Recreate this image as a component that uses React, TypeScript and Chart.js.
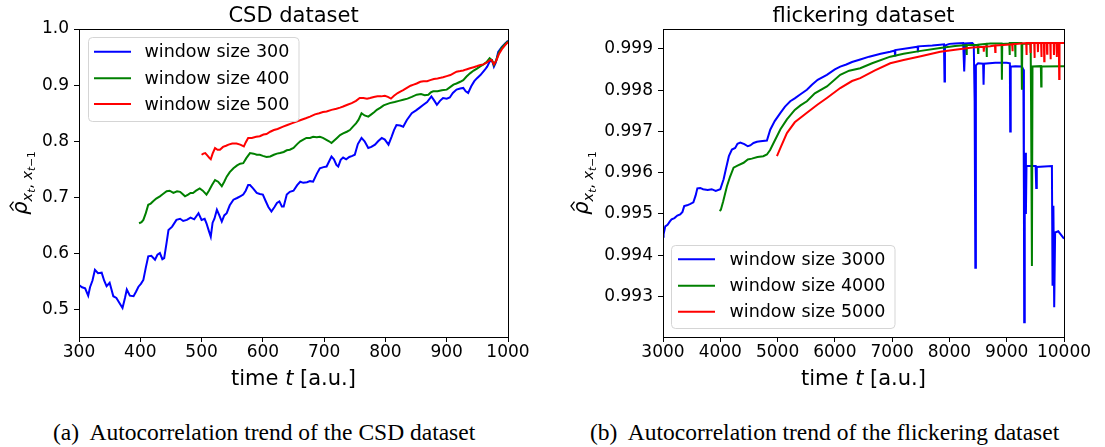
import React, { useEffect, useRef } from "react";
import { Chart, registerables } from "chart.js";
Chart.register(...registerables);

// ---------- CSD dataset ----------
const csdT300 = [300,305,310,315,318,322,326,331,337,341,345,350,356,361,366,371,375,378,383,389,393,397,401,405,409,413,418,424,428,432,436,439,443,446,452,459,465,470,476,482,488,495,500,505,508,512,515,518,521,525,529,533,537,541,546,552,558,563,568,572,576,579,584,590,595,600,604,609,614,619,623,627,631,634,639,644,650,656,661,666,672,677,682,688,693,699,704,708,712,716,720,723,727,731,736,741,746,750,755,761,766,772,777,783,788,794,799,805,810,814,818,824,829,835,843,850,856,862,868,875,880,884,889,894,900,905,910,916,922,927,931,935,940,945,949,955,962,966,970,974,977,980,984,990,995,1000];
const csdV300 = [.544,.540,.538,.525,.540,.552,.571,.565,.566,.552,.542,.548,.524,.521,.512,.503,.521,.536,.525,.524,.532,.541,.546,.553,.575,.595,.596,.589,.598,.601,.590,.592,.620,.642,.648,.660,.662,.658,.660,.664,.661,.672,.660,.662,.654,.640,.630,.655,.662,.678,.668,.657,.668,.672,.686,.696,.699,.702,.705,.712,.722,.722,.716,.708,.706,.705,.695,.683,.675,.683,.690,.693,.684,.684,.705,.710,.712,.722,.728,.726,.727,.729,.728,.742,.752,.754,.755,.764,.773,.768,.758,.755,.767,.771,.768,.772,.774,.776,.795,.806,.800,.788,.790,.794,.800,.806,.803,.794,.808,.820,.829,.828,.826,.838,.850,.855,.860,.865,.870,.880,.872,.865,.872,.877,.876,.878,.886,.892,.894,.895,.889,.886,.898,.907,.912,.918,.927,.933,.942,.944,.933,.940,.959,.968,.974,.979];

const csdT400 = [398,402,405,409,413,417,421,426,432,437,443,448,454,460,465,469,473,478,482,486,491,497,502,508,512,517,522,527,533,537,541,546,552,558,563,568,573,579,585,590,595,600,606,612,618,623,628,634,639,644,650,656,661,666,671,677,682,688,693,698,703,708,712,716,721,726,731,737,742,747,752,756,761,766,772,777,782,786,792,797,807,815,822,829,836,843,851,858,864,870,874,878,885,892,900,905,911,916,922,927,932,938,944,950,954,960,965,970,974,977,981,985,990,995,1000];
const csdV400 = [.654,.656,.660,.672,.687,.689,.693,.698,.702,.706,.711,.712,.708,.711,.710,.706,.702,.705,.708,.708,.712,.716,.712,.705,.712,.722,.731,.728,.720,.728,.737,.745,.752,.757,.760,.761,.770,.779,.778,.776,.776,.774,.772,.773,.776,.778,.779,.781,.784,.785,.788,.795,.800,.803,.806,.806,.808,.807,.808,.806,.803,.800,.797,.801,.806,.811,.814,.817,.820,.826,.832,.838,.850,.846,.844,.848,.852,.856,.860,.864,.868,.870,.872,.874,.876,.879,.883,.884,.882,.883,.887,.889,.889,.891,.892,.896,.901,.903,.906,.909,.915,.921,.926,.930,.933,.937,.941,.948,.944,.936,.945,.958,.967,.973,.978];

const csdT500 = [500,503,506,510,513,515,518,522,526,530,535,540,544,550,557,563,569,572,576,582,589,595,601,606,612,618,624,633,640,647,655,662,670,677,685,692,698,704,712,720,726,731,738,745,752,758,764,770,775,781,787,793,799,804,809,814,820,825,829,835,841,846,851,857,862,868,873,879,885,890,894,900,906,911,916,922,927,932,938,944,950,955,960,965,970,973,977,981,985,990,995,1000];
const csdV500 = [.776,.778,.779,.774,.770,.768,.778,.788,.785,.785,.790,.792,.794,.796,.796,.794,.791,.798,.806,.806,.808,.809,.812,.813,.817,.820,.822,.826,.829,.832,.835,.838,.841,.844,.848,.850,.852,.853,.856,.858,.860,.862,.865,.868,.872,.877,.877,.876,.877,.879,.880,.880,.881,.879,.876,.881,.886,.889,.891,.895,.899,.901,.903,.906,.907,.907,.909,.911,.912,.913,.914,.916,.918,.921,.924,.925,.926,.928,.930,.932,.934,.936,.937,.940,.944,.945,.937,.944,.955,.964,.971,.977];

const csdLabels = ["window size 300", "window size 400", "window size 500"];
const csdXTicks = [300, 400, 500, 600, 700, 800, 900, 1000];
const csdYTicks = [0.5, 0.6, 0.7, 0.8, 0.9, 1.0];

// ---------- flickering dataset ----------
const flkT3000 = [3000,3010,3040,3080,3120,3150,3200,3250,3300,3340,3370,3420,3470,3530,3570,3600,3650,3700,3780,3850,3920,4000,4058,4100,4150,4203,4260,4300,4349,4420,4480,4523,4580,4640,4700,4814,4872,4950,5050,5130,5221,5300,5400,5512,5600,5700,5861,6000,6094,6200,6300,6443,6600,6800,6967,7045,7050,7055,7300,7445,7450,7455,7700,7840,7905,7914,7922,8000,8100,8240,8258,8275,8400,8425,8440,8452,8462,8500,8588,8596,8604,8800,9000,9055,9061,9070,9150,9265,9290,9300,9305,9315,9325,9335,9345,9360,9505,9515,9525,9789,9800,9815,9829,9845,9900,10000];
const flkV3000 = [.99445,.99451,.99470,.99474,.99482,.99487,.99490,.99496,.99499,.99505,.99519,.99521,.99524,.99528,.99545,.99562,.99563,.99560,.99558,.99560,.99556,.99560,.99584,.99610,.99640,.99656,.99660,.99670,.99673,.99669,.99664,.99666,.99672,.99675,.99676,.99678,.99704,.99725,.99745,.99760,.99773,.99780,.99790,.99801,.99813,.99825,.99837,.99850,.99857,.99862,.99868,.99874,.99881,.99888,.99893,.99896,.99884,.99897,.99902,.99905,.99892,.99906,.99908,.99910,.99911,.99821,.99908,.99912,.99913,.99914,.99845,.99913,.99914,.99910,.99773,.99370,.99860,.99865,.99864,.99813,.99864,.99866,.99866,.99865,.99700,.99857,.99858,.99857,.99850,.99560,.99238,.99504,.99648,.99500,.99616,.99616,.99616,.99563,.99614,.99616,.99326,.99520,.99274,.99455,.99458,.99440];

const flkT4000 = [3988,4010,4050,4116,4170,4232,4300,4407,4480,4550,4650,4750,4814,4870,4930,5050,5163,5300,5400,5512,5650,5861,6094,6250,6443,6650,6967,7200,7500,7840,8100,8295,8300,8305,8495,8500,8505,8645,8650,8655,8712,8910,8916,8922,9045,9050,9055,9145,9150,9155,9258,9265,9272,9418,9425,9440,9450,9596,9602,9608,10000];
const flkV4000 = [.99507,.99510,.99530,.99567,.99590,.99612,.99617,.99624,.99632,.99634,.99638,.99640,.99644,.99655,.99672,.99705,.99729,.99752,.99763,.99773,.99792,.99809,.99837,.99847,.99853,.99865,.99881,.99888,.99895,.99902,.99907,.99909,.99885,.99909,.99910,.99890,.99910,.99912,.99880,.99912,.99913,.99913,.99825,.99912,.99913,.99885,.99914,.99914,.99880,.99914,.99914,.99801,.99912,.99913,.99773,.99374,.99857,.99858,.99809,.99857,.99858];

const flkT5000 = [4989,5050,5163,5300,5512,5700,5861,6094,6300,6443,6700,6967,7200,7500,7840,8100,8400,8595,8600,8605,8712,8795,8800,8805,9000,9095,9100,9105,9200,9340,9345,9350,9410,9415,9420,9480,9485,9490,9540,9545,9550,9600,9605,9610,9650,9655,9660,9700,9705,9710,9760,9765,9770,9820,9825,9830,9870,9875,9880,9910,9916,9922,10000];
const flkV5000 = [.99640,.99660,.99696,.99722,.99745,.99765,.99781,.99805,.99822,.99829,.99848,.99865,.99873,.99882,.99893,.99898,.99903,.99905,.99893,.99905,.99906,.99908,.99892,.99908,.99910,.99911,.99894,.99911,.99912,.99914,.99885,.99914,.99914,.99890,.99914,.99914,.99878,.99914,.99914,.99892,.99914,.99914,.99880,.99914,.99914,.99870,.99914,.99914,.99888,.99914,.99914,.99875,.99914,.99914,.99885,.99914,.99914,.99880,.99914,.99914,.99827,.99914,.99914];

const flkLabels = ["window size 3000", "window size 4000", "window size 5000"];
const flkXTicks = [3000, 4000, 5000, 6000, 7000, 8000, 9000, 10000];
const flkYTicks = [0.993, 0.994, 0.995, 0.996, 0.997, 0.998, 0.999];

const seriesColors = ["#0000ff", "#008000", "#ff0000"];

const FONT = '"DejaVu Sans", sans-serif';

function pts(T: number[], V: number[]) {
  return T.map((t, i) => ({ x: t, y: V[i] }));
}

function drawRho(ctx: CanvasRenderingContext2D, bx: number, cy: number) {
  const segs = [
    { t: "ρ", s: 21, it: true, dy: 0 },
    { t: "x", s: 14.5, it: true, dy: 4.5 },
    { t: "t", s: 10.5, it: true, dy: 7.5 },
    { t: ", ", s: 14.5, it: false, dy: 4.5 },
    { t: "x", s: 14.5, it: true, dy: 4.5 },
    { t: "t", s: 10.5, it: true, dy: 7.5 },
    { t: "−1", s: 10.5, it: false, dy: 7.5 },
  ];
  const fontOf = (sg: any) => `${sg.it ? "italic " : ""}${sg.s}px ${FONT}`;
  let W = 0;
  const ws = segs.map((sg) => {
    ctx.font = fontOf(sg);
    const w = ctx.measureText(sg.t).width;
    W += w;
    return w;
  });
  ctx.save();
  ctx.translate(bx, cy);
  ctx.rotate(-Math.PI / 2);
  ctx.fillStyle = "#000";
  ctx.textAlign = "left";
  ctx.textBaseline = "alphabetic";
  let x = -W / 2;
  segs.forEach((sg, i) => {
    ctx.font = fontOf(sg);
    ctx.fillText(sg.t, x, sg.dy);
    if (i === 0) {
      const c = x + ws[0] / 2 + 2;
      ctx.strokeStyle = "#000";
      ctx.lineWidth = 1.3;
      ctx.beginPath();
      ctx.moveTo(c - 4.5, -13.5);
      ctx.lineTo(c, -17);
      ctx.lineTo(c + 4.5, -13.5);
      ctx.stroke();
    }
    x += ws[i];
  });
  ctx.restore();
}

type DecorCfg = {
  title: string;
  labels: string[];
  box: { x: number; y: number; w: number; h: number };
  lineX0: number;
  lineX1: number;
  textX: number;
  rowsY: number[];
  rhoX: number;
};

function makeDecor(d: DecorCfg) {
  return {
    id: "decor",
    afterDraw(chart: any) {
      const ctx: CanvasRenderingContext2D = chart.ctx;
      const a = chart.chartArea;
      const cx = (a.left + a.right) / 2;
      ctx.save();
      ctx.strokeStyle = "#000";
      ctx.lineWidth = 1;
      const L = Math.floor(a.left) + 0.5, R = Math.floor(a.right) + 0.5;
      const T = Math.floor(a.top) + 0.5, B = Math.floor(a.bottom) + 0.5;
      ctx.strokeRect(L, T, R - L, B - T);
      ctx.fillStyle = "#000";
      ctx.font = `21px ${FONT}`;
      ctx.textAlign = "center";
      ctx.textBaseline = "alphabetic";
      ctx.fillText(d.title, cx, 22);
      const parts = [
        { t: "time ", f: `21px ${FONT}` },
        { t: "t", f: `italic 21px ${FONT}` },
        { t: " [a.u.]", f: `21px ${FONT}` },
      ];
      let W = 0;
      const ws = parts.map((p) => { ctx.font = p.f; const w = ctx.measureText(p.t).width; W += w; return w; });
      let x = cx - W / 2;
      ctx.textAlign = "left";
      parts.forEach((p, i) => { ctx.font = p.f; ctx.fillText(p.t, x, 385); x += ws[i]; });
      drawRho(ctx, d.rhoX, (a.top + a.bottom) / 2);
      const b = d.box;
      ctx.beginPath();
      const r = 4;
      ctx.moveTo(b.x + r, b.y);
      ctx.arcTo(b.x + b.w, b.y, b.x + b.w, b.y + b.h, r);
      ctx.arcTo(b.x + b.w, b.y + b.h, b.x, b.y + b.h, r);
      ctx.arcTo(b.x, b.y + b.h, b.x, b.y, r);
      ctx.arcTo(b.x, b.y, b.x + b.w, b.y, r);
      ctx.closePath();
      ctx.fillStyle = "rgba(255,255,255,0.8)";
      ctx.fill();
      ctx.strokeStyle = "#d5d5d5";
      ctx.lineWidth = 1;
      ctx.stroke();
      ctx.font = `17.5px ${FONT}`;
      ctx.textBaseline = "middle";
      d.labels.forEach((lab, i) => {
        const y = d.rowsY[i];
        ctx.strokeStyle = seriesColors[i];
        ctx.lineWidth = 2;
        ctx.beginPath();
        ctx.moveTo(d.lineX0, y);
        ctx.lineTo(d.lineX1, y);
        ctx.stroke();
        ctx.fillStyle = "#000";
        ctx.fillText(lab, d.textX, y + 1);
      });
      ctx.restore();
    },
  };
}

function axisOpts(min: number, max: number, ticks: number[], fmt: (v: number) => string, fit: (s: any) => void, pad: number) {
  return {
    type: "linear" as const,
    min,
    max,
    grid: { display: true, drawOnChartArea: false, drawTicks: true, tickLength: 5, color: "#000", lineWidth: 1 },
    border: { display: true, color: "#000", width: 1 },
    ticks: {
      font: { family: "DejaVu Sans", size: 17 },
      color: "#000",
      padding: pad,
      maxRotation: 0,
      autoSkip: false,
      callback: (v: any) => fmt(Number(v)),
    },
    afterBuildTicks: (s: any) => { s.ticks = ticks.map((v) => ({ value: v })); },
    afterFit: fit,
  };
}

function buildConfig(
  T: number[][], V: number[][], labels: string[],
  xr: [number, number], yr: [number, number],
  xt: number[], yt: number[], yDec: number,
  yWidth: number, padRight: number, decor: DecorCfg
): any {
  return {
    type: "line",
    data: {
      datasets: T.map((t, i) => ({
        label: labels[i],
        data: pts(t, V[i]),
        borderColor: seriesColors[i],
        backgroundColor: seriesColors[i],
        borderWidth: 2,
        pointRadius: 0,
        fill: false,
        tension: 0,
        order: 3 - i,
      })),
    },
    options: {
      responsive: false,
      animation: false,
      events: [],
      layout: { padding: { top: 29, right: padRight, left: 0, bottom: 0 } },
      plugins: { legend: { display: false }, title: { display: false }, tooltip: { enabled: false } },
      scales: {
        x: axisOpts(xr[0], xr[1], xt, (v) => String(Math.round(v)), (s: any) => { s.height = 63; }, 0),
        y: axisOpts(yr[0], yr[1], yt, (v) => v.toFixed(yDec), (s: any) => { s.width = yWidth; }, 5),
      },
    },
    plugins: [makeDecor(decor)],
  };
}

function ChartBox({ cfg, left, width }: { cfg: () => any; left: number; width: number }) {
  const ref = useRef<HTMLCanvasElement>(null);
  useEffect(() => {
    const chart = new Chart(ref.current as HTMLCanvasElement, cfg());
    return () => chart.destroy();
  }, []);
  return (
    <canvas
      ref={ref}
      width={width}
      height={400}
      style={{ position: "absolute", left, top: 0, width, height: 400, display: "block" }}
    />
  );
}

const csdConfig = () =>
  buildConfig(
    [csdT300, csdT400, csdT500], [csdV300, csdV400, csdV500], csdLabels,
    [300, 1000], [0.4514, 1.0], csdXTicks, csdYTicks, 1, 79, 32,
    {
      title: "CSD dataset", labels: csdLabels,
      box: { x: 88.5, y: 37.5, w: 210.5, h: 84 },
      lineX0: 94, lineX1: 131, textX: 144.5, rowsY: [51.7, 78.3, 104], rhoX: 27,
    }
  );

const flkConfig = () =>
  buildConfig(
    [flkT3000, flkT4000, flkT5000], [flkV3000, flkV4000, flkV5000], flkLabels,
    [3000, 10000], [0.99202, 0.99948], flkXTicks, flkYTicks, 3, 103, 41,
    {
      title: "flickering dataset", labels: flkLabels,
      box: { x: 111.5, y: 245.5, w: 223.5, h: 83 },
      lineX0: 118, lineX1: 155, textX: 169.5, rowsY: [259.3, 285.7, 311.7], rhoX: 28,
    }
  );

export default function App() {
  const cap: React.CSSProperties = {
    position: "absolute",
    top: 419,
    fontFamily: '"Liberation Serif", "Times New Roman", serif',
    fontSize: 23.5,
    whiteSpace: "pre",
    color: "#000",
    lineHeight: "normal",
  };
  return (
    <div style={{ position: "absolute", left: 0, top: 0, width: 1105, height: 447, background: "#fff", overflow: "hidden" }}>
      <ChartBox cfg={csdConfig} left={0} width={540} />
      <ChartBox cfg={flkConfig} left={560} width={545} />
      <div style={{ ...cap, left: 53 }}>{"(a)  Autocorrelation trend of the CSD dataset"}</div>
      <div style={{ ...cap, left: 590 }}>{"(b)  Autocorrelation trend of the flickering dataset"}</div>
    </div>
  );
}
